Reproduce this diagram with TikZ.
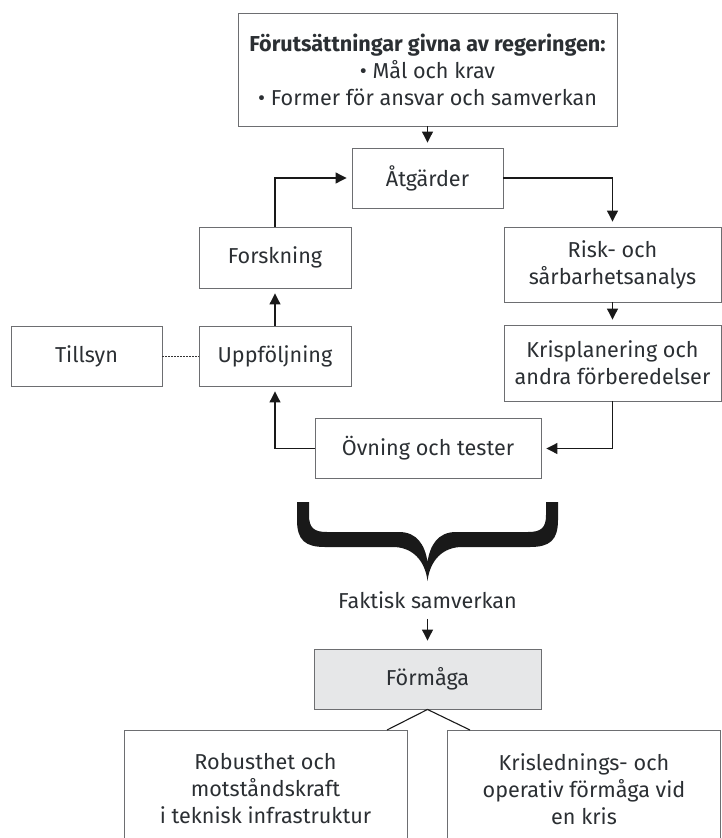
\documentclass[tikz,border=0pt]{standalone}
\usepackage{fontspec}
\setmainfont{Fira Sans}
\usetikzlibrary{arrows.meta}
\definecolor{txt}{HTML}{2B2F33}
\definecolor{frame}{HTML}{6D6E71}
\definecolor{fillg}{HTML}{E6E7E8}
\tikzset{
  box/.style={draw=frame, line width=0.9pt, text=txt, align=center, inner sep=0pt,
              font=\fontsize{21.6}{27}\selectfont},
  lbl/.style={text=txt, align=center, inner sep=0pt, font=\fontsize{21.6}{27}\selectfont},
  conn/.style={line width=1.1pt, draw=black!90},
  arr/.style={conn, -{Triangle[length=11pt,width=11pt]}, shorten >=5pt},
  dots/.style={line width=0.9pt, draw=black!80, dash pattern=on 1.5pt off 1.5pt},
}
\begin{document}
\begin{tikzpicture}[x=1pt,y=-1pt]
\useasboundingbox (0,0) rectangle (722,838);
% boxes
\node[box, minimum width=379, minimum height=113] (top) at (427.5,69.5)
  {\textbf{Förutsättningar givna av regeringen:}\\• Mål och krav\\• Former för ansvar och samverkan};
\node[box, minimum width=151, minimum height=60] (atg) at (427.5,178) {Åtgärder};
\node[box, minimum width=152, minimum height=61] (fors) at (275,257.5) {Forskning};
\node[box, minimum width=152, minimum height=60] (upp) at (275,356) {Uppföljning};
\node[box, minimum width=151, minimum height=60] (till) at (86.5,356) {Tillsyn};
\node[box, minimum width=217, minimum height=75] (risk) at (612.5,264.5) {Risk- och\\sårbarhetsanalys};
\node[box, minimum width=217, minimum height=76] (kris) at (612.5,363) {Krisplanering och\\andra förberedelser};
\node[box, minimum width=226, minimum height=60] (ovn) at (428,448.5) {Övning och tester};
\node[box, fill=fillg, minimum width=227, minimum height=60] (form) at (427.5,679) {Förmåga};
\node[lbl] (fak) at (427.5,600) {Faktisk samverkan};
% bottom boxes (cut by the page edge)
\node[box, minimum width=283, minimum height=150] (lb) at (265.5,805) {};
\node[box, minimum width=273, minimum height=150] (rb) at (583.5,805) {};
\node[lbl] (lbt) at (265.5,789) {Robusthet och\\motståndskraft\\i teknisk infrastruktur};
\node[lbl] (rbt) at (584,789) {Krislednings- och\\operativ förmåga vid\\en kris};
\coordinate (lt) at (387,730);
\coordinate (rt) at (470,730);
% brace
\fill[black!90] (297,502) -- (297,520) .. controls (297,540) and (305,547) .. (325,547)
  -- (393,547) .. controls (412,547) and (425,560) .. (427.5,581)
  .. controls (430,560) and (443,547) .. (462,547)
  -- (530,547) .. controls (550,547) and (558,540) .. (558,520) -- (558,502)
  -- (546,502) -- (546,515) .. controls (546,528) and (541,532) .. (528,532)
  -- (456,532) .. controls (438,532) and (430,545) .. (427.5,562)
  .. controls (425,545) and (417,532) .. (399,532)
  -- (327,532) .. controls (314,532) and (309,528) .. (309,515) -- (309,502) -- cycle;
% connectors
\draw[arr] (top.south) -- (atg.north);
\draw[arr] (atg.east) -| (risk.north);
\draw[arr] (risk.south) -- (kris.north);
\draw[arr] (kris.south) |- (ovn.east);
\draw[arr] (ovn.west) -| (upp.south);
\draw[arr] (upp.north) -- (fors.south);
\draw[arr] (fors.north) |- (atg.west);
\draw[dots] (till.east) -- (upp.west);
\draw[arr, shorten <=10pt, shorten >=8pt] (fak.south) -- (form.north);
\draw[conn] (form.south) -- (lt);
\draw[conn] (form.south) -- (rt);
\end{tikzpicture}
\end{document}
